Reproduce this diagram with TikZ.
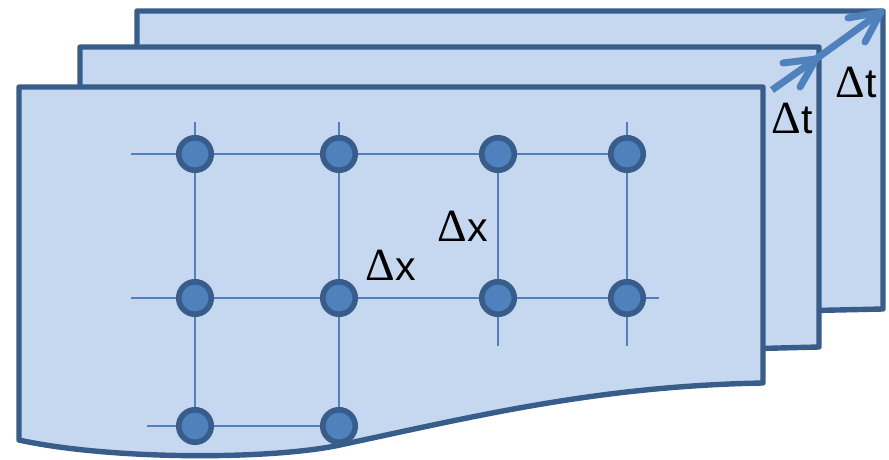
\documentclass[tikz,border=0pt]{standalone}
\usepackage{amsmath}
\usepackage{fontspec}
\setmainfont{Liberation Sans}
\newfontfamily\deltafont{Liberation Serif}
\usepackage{tikz}
\usetikzlibrary{arrows.meta,positioning,calc}
\definecolor{sheetfill}{HTML}{C6D8F0}
\definecolor{sheetedge}{HTML}{385D8A}
\definecolor{gridblue}{HTML}{4F81BD}
\newcommand{\dl}{{\deltafont\fontsize{46}{46}\selectfont Δ}}

\begin{document}
\begin{tikzpicture}[
  x=1pt, y=-1pt,
  sheet/.style = {draw=sheetedge, fill=sheetfill, line width=5.4pt, line join=round},
  gridpt/.style = {circle, draw=sheetedge, fill=gridblue, line width=5.6pt,
                   minimum size=32.5pt, inner sep=0pt},
  gridline/.style = {draw=gridblue, line width=1.8pt},
  timearrow/.style = {draw=gridblue, line width=7pt},
  timehead/.style = {draw=gridblue, line width=7pt, line cap=round, line join=round},
  delta/.style = {font=\fontsize{41}{41}\selectfont, text=black, inner sep=0pt, anchor=base}
]
\useasboundingbox (0,0) rectangle (889,460);

%% --- sheets, back to front ---
\draw[sheet] (137,11) -- (883,11) -- (883,309) -- (700,313) -- (137,313) -- cycle;
\draw[sheet] (80,47) -- (819,47) -- (819,347) -- (700,350) -- (80,350) -- cycle;
\draw[sheet] (19,87) -- (763,87) -- (763,383)
  .. controls (600,386) and (480,415) .. (340,445)
  .. controls (270,460) and (110,460) .. (19,440) -- cycle;

%% --- free ends of the grid lines ---
\coordinate (w1) at (131,154);
\coordinate (w2) at (131,298);
\coordinate (w3) at (147,426);
\coordinate (e2) at (659,298);
\coordinate (n1) at (195,122);
\coordinate (n2) at (339,122);
\coordinate (n4) at (627,122);
\coordinate (s3) at (498,346);
\coordinate (s4) at (627,346);

%% --- grid points ---
\node[gridpt] (p11) at (195,154) {};
\node[gridpt] (p12) at (339,154) {};
\node[gridpt] (p13) at (498,154) {};
\node[gridpt] (p14) at (627,154) {};
\node[gridpt] (p21) at (195,298) {};
\node[gridpt] (p22) at (339,298) {};
\node[gridpt] (p23) at (498,298) {};
\node[gridpt] (p24) at (627,298) {};
\node[gridpt] (p31) at (195,426) {};
\node[gridpt] (p32) at (339,426) {};

%% --- grid lines ---
\draw[gridline] (w1) -- (p11) -- (p12) -- (p13) -- (p14);
\draw[gridline] (w2) -- (p21) -- (p22) -- (p23) -- (p24) -- (e2);
\draw[gridline] (w3) -- (p31) -- (p32);
\draw[gridline] (n1) -- (p11) -- (p21) -- (p31);
\draw[gridline] (n2) -- (p12) -- (p22) -- (p32);
\draw[gridline] (p13) -- (p23) -- (s3);
\draw[gridline] (n4) -- (p14) -- (p24) -- (s4);

%% --- time arrows ---
\coordinate (t0) at (772,90);
\coordinate (t1) at (816,59);
\coordinate (t2) at (881,12);
\coordinate (b1) at (783,63);
\coordinate (b2) at (800,87);
\coordinate (b3) at (848,18);
\coordinate (b4) at (865,42);
\draw[timearrow] (t0) -- (t1);
\draw[timearrow] (t1) -- (t2);
\draw[timehead] (b1) -- (t1) -- (b2);
\draw[timehead] (b3) -- (t2) -- (b4);

%% --- labels ---
\node[delta] (dt1) at (792,133) {\dl t};
\node[delta] (dt2) at (856,98) {\dl t};
\node[delta] (dx1) at (391,280) {\dl x};
\node[delta] (dx2) at (463,241) {\dl x};

\end{tikzpicture}
\end{document}
